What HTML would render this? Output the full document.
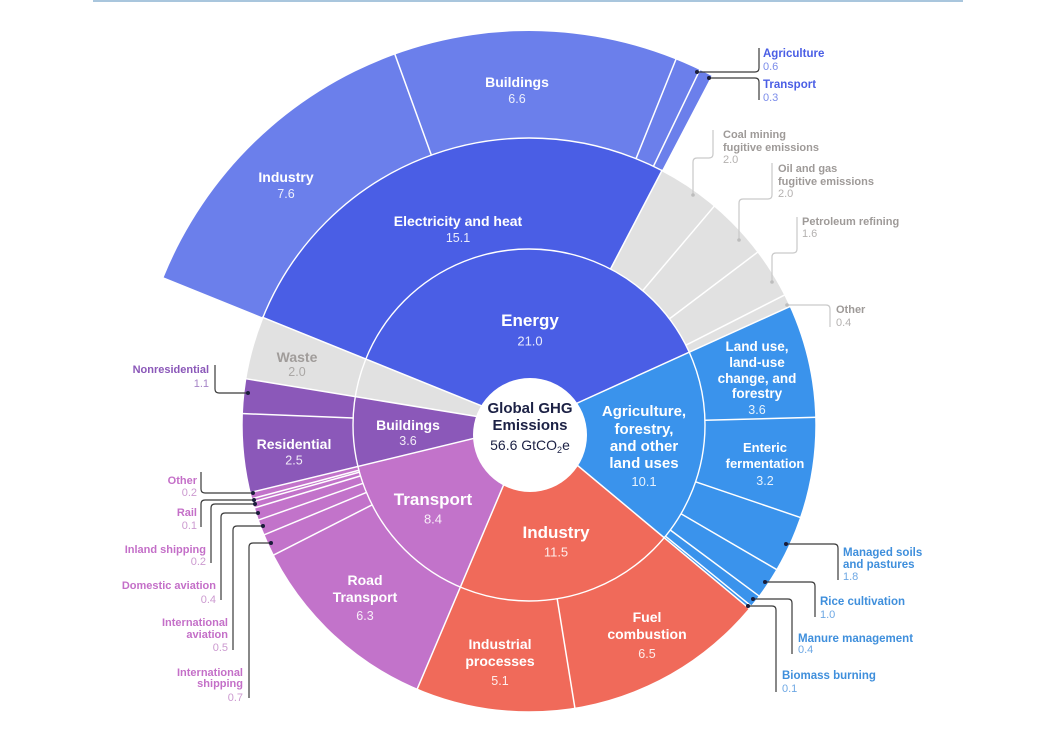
<!DOCTYPE html>
<html><head><meta charset="utf-8"><style>
html,body{margin:0;padding:0;background:#fff;width:1063px;height:753px;overflow:hidden;}
svg{display:block;font-family:"Liberation Sans",sans-serif;vertical-align:top;}
.w{fill:#fff;font-weight:bold;text-anchor:middle;}
.v{fill:#fff;fill-opacity:.88;text-anchor:middle;}
.g{fill:#9e9a98;font-weight:bold;font-size:11px;}
.gv{fill:#b4b1b0;font-size:11px;}
.a{fill:#3f8fdc;font-weight:bold;font-size:11.5px;}
.av{fill:#6ea8e4;font-size:11px;}
.t{fill:#c46fc8;font-weight:bold;font-size:11px;text-anchor:end;}
.tv{fill:#cc9ad0;font-size:11px;text-anchor:end;}
.e{fill:#4a5ee5;font-weight:bold;font-size:11.5px;}
.ev{fill:#7b8cea;font-size:11px;}
</style></head><body>
<svg width="1063" height="753" viewBox="0 0 1063 753" xmlns="http://www.w3.org/2000/svg">
<rect width="1063" height="753" fill="#fff"/>
<line x1="93" y1="1" x2="963" y2="1" stroke="#a9c6dd" stroke-width="2"/>
<path d="M163.69,277.40 A394,394 0 0 1 711.51,75.82 L661.48,171.54 A286,286 0 0 0 263.83,317.86 Z" fill="#6b7feb"/>
<g transform="translate(529,425)">
  <circle r="143.5" fill="none" stroke="#4a5ee5" stroke-width="287" stroke-dasharray="336.5 3000" transform="rotate(201.7)"/>
  <circle r="143.5" fill="none" stroke="#3a93ec" stroke-width="287" stroke-dasharray="162.9 3000" transform="rotate(-24.43)"/>
  <circle r="143.5" fill="none" stroke="#f06a5a" stroke-width="287" stroke-dasharray="185.2 3000" transform="rotate(39.81)"/>
  <circle r="143.5" fill="none" stroke="#c273ca" stroke-width="287" stroke-dasharray="135.8 3000" transform="rotate(112.95)"/>
  <circle r="143.5" fill="none" stroke="#8b58b9" stroke-width="287" stroke-dasharray="58.4 3000" transform="rotate(166.38)"/>
  <circle r="143.5" fill="none" stroke="#e1e1e1" stroke-width="287" stroke-dasharray="31.86 3000" transform="rotate(189.28)"/>
  <circle r="231.5" fill="none" stroke="#e1e1e1" stroke-width="111" stroke-dasharray="153.45 3000" transform="rotate(-62.41)"/>
  <circle r="176" fill="none" stroke="#fff" stroke-width="1.4"/>
  <circle r="287" fill="none" stroke="#fff" stroke-width="1.4"/>
  <g stroke="#fff" stroke-width="1.5">
    <line x1="0" y1="0" x2="0" y2="-288" transform="rotate(65.57)"/>
    <line x1="0" y1="0" x2="0" y2="-288" transform="rotate(129.81)"/>
    <line x1="0" y1="0" x2="0" y2="-288" transform="rotate(202.95)"/>
    <line x1="0" y1="0" x2="0" y2="-288" transform="rotate(256.38)"/>
    <line x1="0" y1="0" x2="0" y2="-288" transform="rotate(279.28)"/>
    <line x1="0" y1="0" x2="0" y2="-288" transform="rotate(292)"/>
    <line x1="0" y1="-176" x2="0" y2="-288" transform="rotate(27.59)"/>
    <line x1="0" y1="-176" x2="0" y2="-288" transform="rotate(40.25)"/>
    <line x1="0" y1="-176" x2="0" y2="-288" transform="rotate(52.91)"/>
    <line x1="0" y1="-176" x2="0" y2="-288" transform="rotate(63.04)"/>
    <line x1="0" y1="-176" x2="0" y2="-288" transform="rotate(88.47)"/>
    <line x1="0" y1="-176" x2="0" y2="-288" transform="rotate(108.82)"/>
    <line x1="0" y1="-176" x2="0" y2="-288" transform="rotate(120.27)"/>
    <line x1="0" y1="-176" x2="0" y2="-288" transform="rotate(126.63)"/>
    <line x1="0" y1="-176" x2="0" y2="-288" transform="rotate(129.17)"/>
    <line x1="0" y1="-176" x2="0" y2="-288" transform="rotate(170.79)"/>
    <line x1="0" y1="-176" x2="0" y2="-288" transform="rotate(243.02)"/>
    <line x1="0" y1="-176" x2="0" y2="-288" transform="rotate(247.47)"/>
    <line x1="0" y1="-176" x2="0" y2="-288" transform="rotate(250.65)"/>
    <line x1="0" y1="-176" x2="0" y2="-288" transform="rotate(253.19)"/>
    <line x1="0" y1="-176" x2="0" y2="-288" transform="rotate(254.46)"/>
    <line x1="0" y1="-176" x2="0" y2="-288" transform="rotate(255.10)"/>
    <line x1="0" y1="-176" x2="0" y2="-288" transform="rotate(272.28)"/>
    <line x1="0" y1="-287" x2="0" y2="-395" transform="rotate(340.11)"/>
    <line x1="0" y1="-287" x2="0" y2="-395" transform="rotate(21.89)"/>
    <line x1="0" y1="-287" x2="0" y2="-395" transform="rotate(25.69)"/>
  </g>
</g>
<circle cx="530" cy="435" r="57" fill="#fff"/>
<text x="530" y="413" text-anchor="middle" font-weight="bold" font-size="15" fill="#1c2145">Global GHG</text>
<text x="530" y="430" text-anchor="middle" font-weight="bold" font-size="15" fill="#1c2145">Emissions</text>
<text x="530" y="450" text-anchor="middle" font-size="14" fill="#1c2145">56.6 GtCO<tspan font-size="9" dy="3">2</tspan><tspan dy="-3">e</tspan></text>

<text class="w" x="530" y="326" font-size="17">Energy</text>
<text class="v" x="530" y="345.5" font-size="13">21.0</text>
<text class="w" x="458" y="226" font-size="14">Electricity and heat</text>
<text class="v" x="458" y="242" font-size="12.5">15.1</text>
<text class="w" x="286" y="182" font-size="14">Industry</text>
<text class="v" x="286" y="198" font-size="12.5">7.6</text>
<text class="w" x="517" y="87" font-size="14">Buildings</text>
<text class="v" x="517" y="103" font-size="12.5">6.6</text>
<text x="297" y="362" font-size="14" font-weight="bold" text-anchor="middle" fill="#a09c9a">Waste</text>
<text x="297" y="376" font-size="12.5" text-anchor="middle" fill="#aaa7a5">2.0</text>
<text class="w" x="408" y="430" font-size="14">Buildings</text>
<text class="v" x="408" y="445" font-size="12.5">3.6</text>
<text class="w" x="294" y="449" font-size="14">Residential</text>
<text class="v" x="294" y="464.5" font-size="12.5">2.5</text>
<text class="w" x="433" y="505" font-size="17">Transport</text>
<text class="v" x="433" y="523.5" font-size="13">8.4</text>
<text class="w" x="365" y="585" font-size="14">Road</text>
<text class="w" x="365" y="602" font-size="14">Transport</text>
<text class="v" x="365" y="620" font-size="12.5">6.3</text>
<text class="w" x="556" y="538" font-size="17">Industry</text>
<text class="v" x="556" y="556.5" font-size="13">11.5</text>
<text class="w" x="500" y="649" font-size="14">Industrial</text>
<text class="w" x="500" y="666" font-size="14">processes</text>
<text class="v" x="500" y="685" font-size="12.5">5.1</text>
<text class="w" x="647" y="622" font-size="14">Fuel</text>
<text class="w" x="647" y="639" font-size="14">combustion</text>
<text class="v" x="647" y="658" font-size="12.5">6.5</text>
<text class="w" x="644" y="416" font-size="15">Agriculture,</text>
<text class="w" x="644" y="434" font-size="15">forestry,</text>
<text class="w" x="644" y="451" font-size="15">and other</text>
<text class="w" x="644" y="468" font-size="15">land uses</text>
<text class="v" x="644" y="486" font-size="13">10.1</text>
<text class="w" x="757" y="351" font-size="13.5">Land use,</text>
<text class="w" x="757" y="367" font-size="13.5">land-use</text>
<text class="w" x="757" y="383" font-size="13.5">change, and</text>
<text class="w" x="757" y="398" font-size="13.5">forestry</text>
<text class="v" x="757" y="414" font-size="12.5">3.6</text>
<text class="w" x="765" y="452" font-size="13">Enteric</text>
<text class="w" x="765" y="468" font-size="13">fermentation</text>
<text class="v" x="765" y="485" font-size="12.5">3.2</text>

<g fill="none" stroke="#3a3a3a" stroke-width="1.2">
  <path d="M697,72 H755 Q759,72 759,68 V48"/>
  <path d="M709,78 H755 Q759,78 759,82 V100"/>
  <path d="M786,544 H834 Q838,544 838,548 V580"/>
  <path d="M765,582 H811 Q815,582 815,586 V617"/>
  <path d="M753,599 H788 Q792,599 792,603 V654"/>
  <path d="M748,606 H772 Q776,606 776,610 V692"/>
  <path d="M253,493 H205 Q201,493 201,489 V472"/>
  <path d="M254,500 H205 Q201,500 201,504 V527"/>
  <path d="M255,504 H215 Q211,504 211,508 V563"/>
  <path d="M258,513 H225 Q221,513 221,517 V600"/>
  <path d="M263,526 H237 Q233,526 233,530 V650"/>
  <path d="M271,543 H253 Q249,543 249,547 V698"/>
  <path d="M248,393 H219 Q215,393 215,389 V365"/>
</g>
<g fill="#1a1d3a">
  <circle cx="697" cy="72" r="2"/><circle cx="709" cy="78" r="2"/>
  <circle cx="786" cy="544" r="2"/><circle cx="765" cy="582" r="2"/>
  <circle cx="753" cy="599" r="2"/><circle cx="748" cy="606" r="2"/>
  <circle cx="253" cy="493" r="2"/><circle cx="254" cy="500" r="2"/>
  <circle cx="255" cy="504" r="2"/><circle cx="258" cy="513" r="2"/>
  <circle cx="263" cy="526" r="2"/><circle cx="271" cy="543" r="2"/>
  <circle cx="248" cy="393" r="2"/>
</g>
<g fill="none" stroke="#c9c9c9" stroke-width="1.2">
  <path d="M693,195 V162 Q693,158 697,158 H709 Q713,158 713,154 V130"/>
  <path d="M739,240 V203 Q739,199 743,199 H768 Q772,199 772,195 V163"/>
  <path d="M772,282 V257 Q772,253 776,253 H793 Q797,253 797,249 V217"/>
  <path d="M787,305 H826 Q830,305 830,309 V327"/>
</g>
<g fill="#bdbdbd">
  <circle cx="693" cy="195" r="1.8"/><circle cx="739" cy="240" r="1.8"/>
  <circle cx="772" cy="282" r="1.8"/><circle cx="787" cy="305" r="1.8"/>
</g>

<text class="e" x="763" y="57">Agriculture</text>
<text class="ev" x="763" y="70">0.6</text>
<text class="e" x="763" y="88">Transport</text>
<text class="ev" x="763" y="101">0.3</text>

<text class="g" x="723" y="138">Coal mining</text>
<text class="g" x="723" y="151">fugitive emissions</text>
<text class="gv" x="723" y="163">2.0</text>
<text class="g" x="778" y="172">Oil and gas</text>
<text class="g" x="778" y="185">fugitive emissions</text>
<text class="gv" x="778" y="197">2.0</text>
<text class="g" x="802" y="225">Petroleum refining</text>
<text class="gv" x="802" y="237">1.6</text>
<text class="g" x="836" y="313">Other</text>
<text class="gv" x="836" y="326">0.4</text>

<text class="a" x="843" y="556">Managed soils</text>
<text class="a" x="843" y="568">and pastures</text>
<text class="av" x="843" y="580">1.8</text>
<text class="a" x="820" y="605">Rice cultivation</text>
<text class="av" x="820" y="618">1.0</text>
<text class="a" x="798" y="642">Manure management</text>
<text class="av" x="798" y="653">0.4</text>
<text class="a" x="782" y="679">Biomass burning</text>
<text class="av" x="782" y="692">0.1</text>

<text class="t" x="197" y="484">Other</text>
<text class="tv" x="197" y="496">0.2</text>
<text class="t" x="197" y="516">Rail</text>
<text class="tv" x="197" y="529">0.1</text>
<text class="t" x="206" y="553">Inland shipping</text>
<text class="tv" x="206" y="565">0.2</text>
<text class="t" x="216" y="589">Domestic aviation</text>
<text class="tv" x="216" y="603">0.4</text>
<text class="t" x="228" y="626">International</text>
<text class="t" x="228" y="638">aviation</text>
<text class="tv" x="228" y="651">0.5</text>
<text class="t" x="243" y="676">International</text>
<text class="t" x="243" y="687">shipping</text>
<text class="tv" x="243" y="701">0.7</text>

<text x="209" y="373" font-size="11" font-weight="bold" text-anchor="end" fill="#8b58b9">Nonresidential</text>
<text x="209" y="387" font-size="11" text-anchor="end" fill="#a583c6">1.1</text>
</svg>
</body></html>
